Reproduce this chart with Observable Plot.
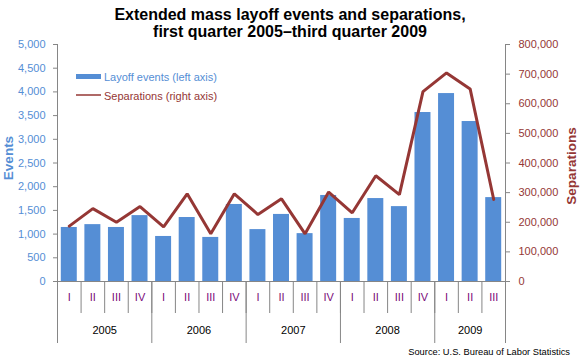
<!DOCTYPE html>
<html>
<head>
<meta charset="utf-8">
<script src="https://cdn.jsdelivr.net/npm/d3@7"></script>
<script src="https://cdn.jsdelivr.net/npm/@observablehq/plot@0.6"></script>
<style>
  html, body { margin: 0; padding: 0; background: #fff; }
  #chart { position: relative; width: 580px; height: 360px; font-family: "Liberation Sans", Arial, sans-serif; overflow: hidden; }
  #chart svg { position: absolute; left: 0; top: 0; background: transparent; }
</style>
</head>
<body>
<div id="chart"></div>
<script>
// ---- data ----
const quarters = ["I","II","III","IV","I","II","III","IV","I","II","III","IV","I","II","III","IV","I","II","III"];
const quarterYears = [2005,2005,2005,2005,2006,2006,2006,2006,2007,2007,2007,2007,2008,2008,2008,2008,2009,2009,2009];
const years = [2005, 2006, 2007, 2008, 2009];
const layoffEvents = [1140,1200,1140,1390,950,1350,930,1625,1095,1415,1010,1815,1330,1750,1580,3565,3965,3375,1770];
const separations = [187000,246000,200000,253000,184000,296000,161000,296000,226000,279000,161000,302000,232000,357000,293000,641000,704000,650000,277000];
const eventTicks = d3.range(0, 5001, 500);
const sepTicks = d3.range(0, 800001, 100000);

const rows = quarters.map((q, i) => ({i, q, year: quarterYears[i], events: layoffEvents[i], sep: separations[i]}));
const n = rows.length;

// year boundaries and centers (in quarter-index units)
const yearStart = years.map(y => quarterYears.indexOf(y));
const yearEnd = years.map(y => quarterYears.lastIndexOf(y) + 1);
const yearBounds = [...yearStart, n];
const yearCenters = years.map((y, k) => (yearStart[k] + yearEnd[k]) / 2);

const BLUE = "#558ED5", RED = "#953735", GRAY = "#868686", PURPLE = "#7A0A7A";
const FONT = "'Liberation Sans', Arial, sans-serif";
const W = 580, H = 360, mL = 57, mR = 75, mT = 44, mB = 79;
const common = {
  width: W, height: H, marginLeft: mL, marginRight: mR, marginTop: mT, marginBottom: mB,
  style: {fontFamily: FONT, fontSize: "11px", background: "transparent", overflow: "visible"}
};

const plotA = Plot.plot({
  ...common,
  x: {type: "linear", domain: [0, n], axis: null},
  y: {domain: [0, 5000], axis: null},
  marks: [
    Plot.rectY(rows, {x1: "i", x2: d => d.i + 1, y: "events", fill: BLUE, insetLeft: 3.8, insetRight: 3.8}),
    Plot.axisY({ticks: eventTicks, tickFormat: d3.format(","), tickSize: 4, tickPadding: 8, fill: BLUE, stroke: GRAY, label: null}),
    Plot.axisX({ticks: d3.range(1, n), tickSize: 32, tickFormat: () => "", stroke: GRAY, label: null}),
    Plot.axisX({ticks: yearBounds, tickSize: 62, tickFormat: () => "", stroke: GRAY, label: null}),
    Plot.axisX({ticks: rows.map(d => d.i + 0.5), tickFormat: d => quarters[Math.floor(d)], tickSize: 0, tickPadding: 12, fill: PURPLE, label: null}),
    Plot.axisX({ticks: yearCenters, tickFormat: d => String(years[yearCenters.indexOf(d)]), tickSize: 0, tickPadding: 45, fill: "#000", label: null}),
    Plot.ruleX([0, n], {stroke: GRAY}),
    Plot.ruleY([0], {stroke: GRAY})
  ]
});

const plotB = Plot.plot({
  ...common,
  x: {type: "linear", domain: [0, n], axis: null},
  y: {domain: [0, 800000], axis: null},
  marks: [
    Plot.line(rows, {x: d => d.i + 0.5, y: "sep", stroke: RED, strokeWidth: 3, strokeLinejoin: "miter"}),
    Plot.axisY({anchor: "right", ticks: sepTicks, tickFormat: d3.format(","), tickSize: 4, tickPadding: 9, fill: RED, stroke: GRAY, label: null})
  ]
});

const chart = document.getElementById("chart");
chart.append(plotA, plotB);

// ---- overlay text: title, legend, axis titles, source ----
const svg = d3.select(chart).append("svg")
  .attr("width", W).attr("height", H)
  .style("font-family", FONT);

const title = svg.append("g").attr("font-weight", "bold").attr("font-size", 16).attr("text-anchor", "middle").attr("fill", "#000");
title.append("text").attr("x", 290).attr("y", 19.5).text("Extended mass layoff events and separations,");
title.append("text").attr("x", 290).attr("y", 36.5).text("first quarter 2005\u2013third quarter 2009");

const leg = svg.append("g").attr("font-size", 11);
leg.append("rect").attr("x", 76).attr("y", 74).attr("width", 25).attr("height", 5).attr("fill", BLUE);
leg.append("text").attr("x", 104).attr("y", 80.5).attr("fill", BLUE).text("Layoff events (left axis)");
leg.append("line").attr("x1", 76).attr("x2", 101).attr("y1", 95).attr("y2", 95).attr("stroke", RED).attr("stroke-width", 1.5);
leg.append("text").attr("x", 104).attr("y", 100).attr("fill", RED).text("Separations (right axis)");

svg.append("text").attr("transform", "translate(13,158) rotate(-90)").attr("text-anchor", "middle")
  .attr("font-weight", "bold").attr("font-size", 13.5).attr("fill", BLUE).text("Events");
svg.append("text").attr("transform", "translate(575.5,166) rotate(-90)").attr("text-anchor", "middle")
  .attr("font-weight", "bold").attr("font-size", 13.5).attr("fill", RED).text("Separations");

svg.append("text").attr("x", 570).attr("y", 355).attr("text-anchor", "end").attr("font-size", 9.3)
  .attr("fill", "#000")
  .text("Source: U.S. Bureau of Labor Statistics");
</script>
</body>
</html>
